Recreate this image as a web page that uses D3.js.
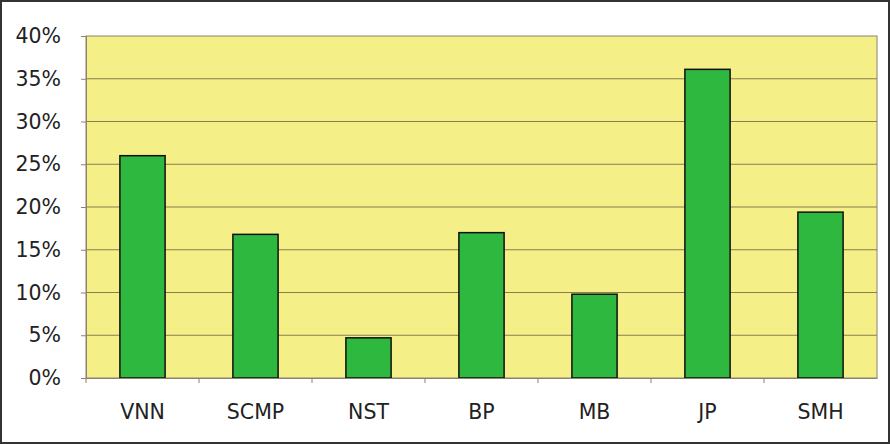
<!DOCTYPE html>
<html>
<head>
<meta charset="utf-8">
<script src="https://cdn.jsdelivr.net/npm/d3@7"></script>
<style>
  body { margin: 0; background: #fff; }
  svg text { font-family: "DejaVu Sans", Verdana, sans-serif; fill: #222; }
</style>
</head>
<body>
<div id="chart"></div>
<script>
var categories = ["VNN", "SCMP", "NST", "BP", "MB", "JP", "SMH"];
var values = [0.26, 0.168, 0.047, 0.17, 0.098, 0.361, 0.194];
var yTicks = [0, 0.05, 0.10, 0.15, 0.20, 0.25, 0.30, 0.35, 0.40];

var W = 890, H = 444;
var margin = { top: 36, right: 13, bottom: 66, left: 86 };
var width = W - margin.left - margin.right;
var height = H - margin.top - margin.bottom;

var root = d3.select("#chart").append("svg")
    .attr("width", W)
    .attr("height", H);

// outer frame
root.append("rect")
    .attr("x", 1).attr("y", 1)
    .attr("width", W - 2).attr("height", H - 2)
    .attr("fill", "#fff")
    .attr("stroke", "#333")
    .attr("stroke-width", 2);

var svg = root.append("g")
    .attr("transform", "translate(" + margin.left + "," + margin.top + ")");

var x = d3.scaleBand().domain(categories).range([0, width]).paddingInner(0.6).paddingOuter(0.3);
var xOuter = d3.scaleBand().domain(categories).range([0, width]);
var y = d3.scaleLinear().domain([0, 0.4]).range([height, 0]);

svg.append("rect")
    .attr("width", width)
    .attr("height", height)
    .attr("fill", "#f5ef88")
    .attr("stroke", "#8c8270")
    .attr("stroke-width", 1);

// gridlines
svg.selectAll(".grid")
    .data(yTicks.slice(1, -1))
  .enter().append("line")
    .attr("class", "grid")
    .attr("x1", 0).attr("x2", width)
    .attr("y1", function(d) { return y(d); })
    .attr("y2", function(d) { return y(d); })
    .attr("stroke", "#8a7d4e")
    .attr("stroke-width", 1);

svg.selectAll(".bar")
    .data(values)
  .enter().append("rect")
    .attr("class", "bar")
    .attr("x", function(d, i) { return x(categories[i]); })
    .attr("width", x.bandwidth())
    .attr("y", function(d) { return y(d); })
    .attr("height", function(d) { return height - y(d); })
    .attr("fill", "#2eb83f")
    .attr("stroke", "#111")
    .attr("stroke-width", 1.5);

// y axis
var yAxis = svg.append("g")
    .call(d3.axisLeft(y).tickValues(yTicks).tickFormat(d3.format(".0%")).tickSize(5).tickPadding(20));
yAxis.select(".domain").attr("stroke", "#8c8270");
yAxis.selectAll(".tick line").attr("stroke", "#8c8270");
yAxis.selectAll("text").style("font-size", "20.5px").attr("fill", "#1e1e1e");

// x axis with ticks between categories
var xAxis = svg.append("g")
    .attr("transform", "translate(0," + height + ")")
    .call(d3.axisBottom(xOuter).tickSize(0).tickPadding(26));
xAxis.select(".domain").attr("stroke", "#8c8270");
xAxis.selectAll("text").style("font-size", "20.5px").attr("fill", "#1e1e1e");

svg.selectAll(".xtick")
    .data(categories)
  .enter().append("line")
    .attr("class", "xtick")
    .attr("x1", function(d) { return xOuter(d); })
    .attr("x2", function(d) { return xOuter(d); })
    .attr("y1", height)
    .attr("y2", height + 5)
    .attr("stroke", "#8c8270");
</script>
</body>
</html>
